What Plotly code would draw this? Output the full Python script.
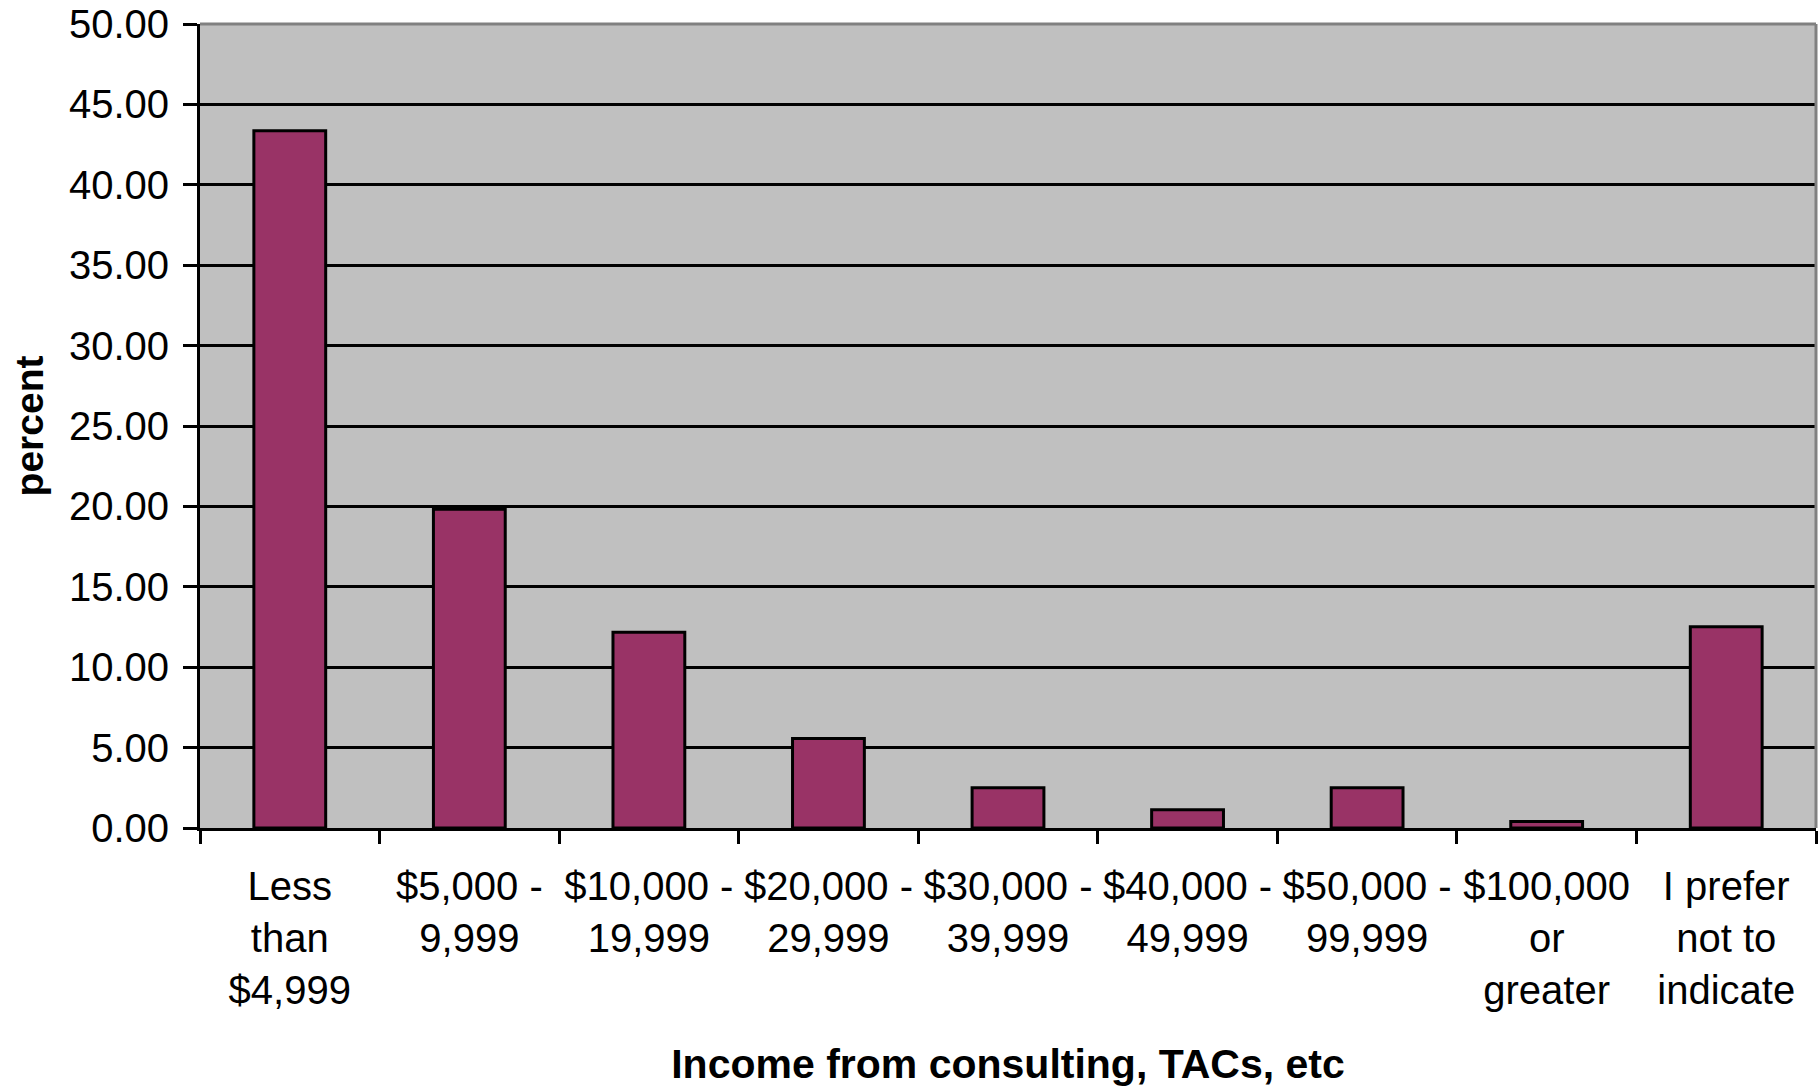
import plotly.graph_objects as go

# Survey responses: share of respondents by consulting income bracket
categories = [
    "Less<br>than<br>$4,999",
    "$5,000 -<br>9,999",
    "$10,000 -<br>19,999",
    "$20,000 -<br>29,999",
    "$30,000 -<br>39,999",
    "$40,000 -<br>49,999",
    "$50,000 -<br>99,999",
    "$100,000<br>or<br>greater",
    "I prefer<br>not to<br>indicate",
]
percent = [43.36, 19.83, 12.17, 5.56, 2.50, 1.14, 2.50, 0.40, 12.52]

y_ticks = [0, 5, 10, 15, 20, 25, 30, 35, 40, 45, 50]

FONT = "Liberation Sans, Arial, sans-serif"

fig = go.Figure(
    go.Bar(
        x=categories,
        y=percent,
        marker=dict(color="#993366", line=dict(color="black", width=3)),
    )
)

fig.update_layout(
    width=1820,
    height=1087,
    margin=dict(l=200, r=4, t=24, b=259),
    paper_bgcolor="white",
    plot_bgcolor="#C0C0C0",
    bargap=0.6,
    showlegend=False,
    font=dict(family=FONT, color="black", size=40),
)

fig.update_xaxes(
    type="category",
    automargin=False,
    tickangle=0,
    tickson="boundaries",
    ticks="outside",
    ticklen=13,
    tickwidth=3,
    tickcolor="black",
    showline=True,
    linecolor="black",
    linewidth=3,
    showgrid=False,
    ticklabelstandoff=21,
    tickfont=dict(family=FONT, size=40, color="black"),
    title=dict(
        text="<b>Income from consulting, TACs, etc</b>",
        font=dict(family=FONT, size=41, color="black"),
        standoff=39,
    ),
)

fig.update_yaxes(
    range=[0, 50],
    automargin=False,
    tickvals=y_ticks,
    ticktext=[f"{v:.2f}" for v in y_ticks],
    ticks="outside",
    ticklen=14,
    tickwidth=3,
    tickcolor="black",
    showline=True,
    linecolor="black",
    linewidth=3,
    showgrid=True,
    gridcolor="black",
    gridwidth=3,
    zeroline=False,
    ticklabelstandoff=6,
    tickfont=dict(family=FONT, size=40, color="black"),
    title=dict(
        text="<b>percent</b>",
        font=dict(family=FONT, size=39, color="black"),
        standoff=14,
    ),
)

# Grey frame along the top and right edges of the plotting area
fig.add_shape(type="line", xref="paper", yref="paper", x0=0, x1=1, y0=1, y1=1,
              line=dict(color="#808080", width=3), layer="above")
fig.add_shape(type="line", xref="paper", yref="paper", x0=1, x1=1, y0=0, y1=1,
              line=dict(color="#808080", width=3), layer="above")

fig.write_html("out.html")
